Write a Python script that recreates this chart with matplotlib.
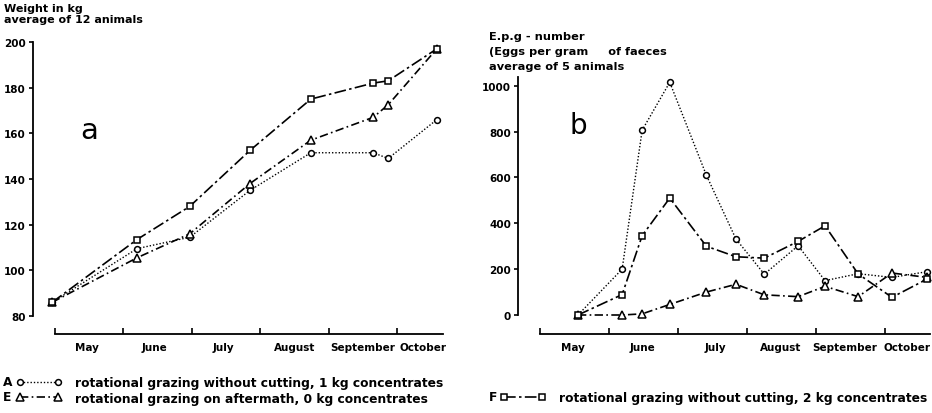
import matplotlib
matplotlib.use("Agg")
import matplotlib.pyplot as plt

# ---------------- data ----------------
month_names = ["May", "June", "July", "August", "September", "October"]

# panel a : weight (kg), x in months since 1 May
xa = [-0.04, 1.20, 1.97, 2.85, 3.74, 4.65, 4.87, 5.58]
weight_A = [86, 109.5, 114.5, 135, 151.5, 151.5, 149, 166]
weight_E = [86, 105.5, 116, 138, 157, 167, 172.5, 197]
weight_F = [86, 113.5, 128, 152.5, 175, 182, 183, 197]

# panel b : E.p.g number
xb = [0.55, 1.19, 1.48, 1.88, 2.41, 2.84, 3.25, 3.74, 4.13, 4.61, 5.10, 5.61]
epg_A = [0, 200, 806, 1015, 610, 331, 178, 302, 150, 180, 164, 189]
epg_E = [0, 0, 5, 46, 100, 134, 88, 80, 125, 80, 183, 164]
epg_F = [0, 89, 346, 510, 300, 254, 248, 321, 389, 179, 77, 157]

yticks_a = [80, 100, 120, 140, 160, 180, 200]
yticks_b = [0, 200, 400, 600, 800, 1000]

label_A = "rotational grazing without cutting, 1 kg concentrates"
label_E = "rotational grazing on aftermath, 0 kg concentrates"
label_F = "rotational grazing without cutting, 2 kg concentrates"

# ---------------- layout ----------------
W, H = 932, 414
fig = plt.figure(figsize=(W / 100, H / 100), dpi=100)
plt.rcParams['font.family'] = ['DejaVu Sans']
FS = 7.5
LFS = 8.8
FW = 'bold'

def px_axes(l, t, r, b):
    return fig.add_axes([l / W, 1 - b / H, (r - l) / W, (b - t) / H])

styles = {
    'A': dict(ls=(0, (1, 1.4)), lw=1.0, marker='o', ms=4.2),
    'E': dict(ls=(0, (5, 2, 1, 2)), lw=1.2, marker='^', ms=5.2),
    'F': dict(ls=(0, (7, 2, 1.5, 2)), lw=1.2, marker='s', ms=4.6),
}

def draw(ax, x, ys, keys):
    lines = {}
    for y, k in zip(ys, keys):
        st = styles[k]
        ln, = ax.plot(x, y, color='black', linestyle=st['ls'], lw=st['lw'],
                      marker=st['marker'], ms=st['ms'], mfc='white', mec='black',
                      mew=1.1, clip_on=False, zorder=3)
        lines[k] = ln
    return lines

def style_axes(ax, xlim, ylim, yticks, xend, outward_px, label_pos):
    ax.set_xlim(*xlim)
    ax.set_ylim(*ylim)
    for s in ('top', 'right'):
        ax.spines[s].set_visible(False)
    ax.spines['left'].set_bounds(ylim[0], ylim[1])
    ax.spines['left'].set_linewidth(1.3)
    ax.spines['bottom'].set_position(('outward', outward_px * 0.72))
    ax.spines['bottom'].set_bounds(0, xend)
    ax.spines['bottom'].set_linewidth(1.3)
    ax.set_yticks(yticks)
    ax.set_yticklabels([str(v) for v in yticks], fontsize=FS, fontweight=FW)
    ax.tick_params(axis='y', direction='out', length=3, width=1.2, pad=2)
    ax.set_xticks(range(6))
    ax.set_xticklabels([])
    ax.tick_params(axis='x', which='major', direction='in', length=4, width=1.2)
    ax.set_xticks(label_pos, minor=True)
    ax.set_xticklabels(month_names, minor=True, fontsize=FS, fontweight=FW)
    ax.tick_params(axis='x', which='minor', length=0, pad=5.5)

# panel a
axa = px_axes(33, 43, 445, 317)
la = draw(axa, xa, [weight_A, weight_E, weight_F], ['A', 'E', 'F'])
style_axes(axa, (-0.32, 5.70), (80, 200), yticks_a, 5.67, 18,
           [0.47, 1.46, 2.46, 3.51, 4.49, 5.38])
axa.text(0.115, 0.68, "a", transform=axa.transAxes, fontsize=21,
         ha='left', va='center')

# panel b
axb = px_axes(518, 78, 932, 316)
lb = draw(axb, xb, [epg_A, epg_E, epg_F], ['A', 'E', 'F'])
style_axes(axb, (-0.319, 5.68), (0, 1038), yticks_b, 5.65, 19,
           [0.48, 1.49, 2.54, 3.48, 4.42, 5.32])
axb.text(0.125, 0.80, "b", transform=axb.transAxes, fontsize=20,
         ha='left', va='center')

# y-axis titles
fig.text(4 / W, 1 - 4 / H, "Weight in kg\naverage of 12 animals",
         fontsize=8, fontweight=FW, ha='left', va='top', linespacing=1.1)
fig.text(489 / W, 1 - 32 / H,
         "E.p.g - number\n(Eggs per gram     of faeces\naverage of 5 animals",
         fontsize=8.2, fontweight=FW, ha='left', va='top', linespacing=1.6)

# legends
leg_kw = dict(loc='upper left', frameon=False, prop=dict(size=LFS, weight=FW),
              handlelength=3.7, handletextpad=1.1, labelspacing=0.22,
              numpoints=2, borderpad=0, borderaxespad=0)
fig.legend([la['A'], la['E']], [label_A, label_E],
           bbox_to_anchor=(16 / W, 1 - 377 / H), **leg_kw)
fig.legend([lb['F']], [label_F],
           bbox_to_anchor=(500 / W, 1 - 392 / H), **leg_kw)
fig.text(3 / W, 1 - 383 / H, "A", fontsize=LFS, fontweight=FW, va='center')
fig.text(3 / W, 1 - 398 / H, "E", fontsize=LFS, fontweight=FW, va='center')
fig.text(489 / W, 1 - 398 / H, "F", fontsize=LFS, fontweight=FW, va='center')

fig.savefig("out.png", dpi=100)
